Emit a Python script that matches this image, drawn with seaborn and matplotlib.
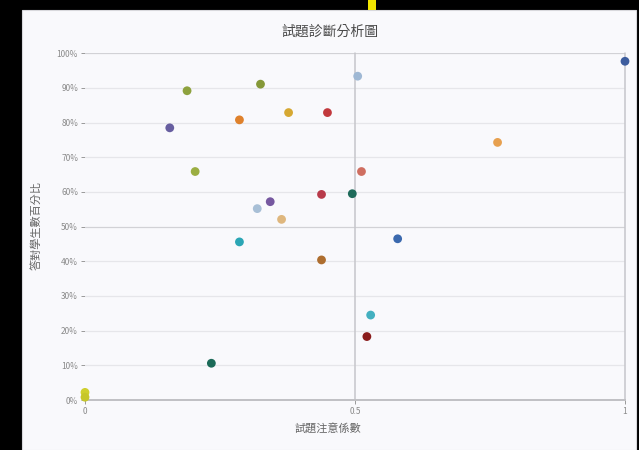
import pandas as pd
import seaborn as sns
import matplotlib.pyplot as plt
from matplotlib.patches import Rectangle
from matplotlib.ticker import PercentFormatter

# item data
attention = [1.0, 0.505, 0.325, 0.189, 0.377, 0.449, 0.286, 0.157, 0.764, 0.512, 0.204,
             0.438, 0.495, 0.343, 0.319, 0.364, 0.286, 0.579, 0.438, 0.529, 0.522, 0.234,
             0.0, 0.0]
correct_pct = [97.7, 93.4, 91.1, 89.2, 82.9, 82.9, 80.8, 78.5, 74.3, 65.9, 65.9,
               59.3, 59.5, 57.2, 55.2, 52.1, 45.6, 46.5, 40.4, 24.5, 18.3, 10.6,
               2.2, 0.8]
colors = ["#3d5d9e", "#9fb8d4", "#859838", "#8ea23e", "#d6a832", "#c2393d", "#df812c",
          "#675ea0", "#e7a04f", "#cf6e60", "#9bae42", "#b83a4a", "#1e6a5a", "#7658a0",
          "#a8bfd6", "#dfb77e", "#2ba6b5", "#3b69ae", "#ae6e2f", "#44b0c0", "#8a1c1c",
          "#1b6a58", "#cfcf2e", "#c6c62a"]

df = pd.DataFrame({"item": range(len(attention)), "x": attention, "y": correct_pct})

sns.set_theme(style="white")
plt.rcParams["font.family"] = ["Noto Sans CJK TC", "DejaVu Sans"]

fig = plt.figure(figsize=(6.39, 4.5), dpi=100, facecolor="black")
bg = "#f9f9fc"
fig.patches.append(Rectangle((22 / 639, 0), 614 / 639, 440 / 450, transform=fig.transFigure,
                             facecolor=bg, edgecolor="#d8d8dc", lw=0.8, zorder=-10))
fig.patches.append(Rectangle((368 / 639, 440 / 450), 8 / 639, 10 / 450, transform=fig.transFigure,
                             facecolor="#f2e600", edgecolor="none", zorder=-10))

ax = fig.add_axes([85 / 639, 50 / 450, 540 / 639, 346.7 / 450])
ax.set_facecolor(bg)

sns.scatterplot(data=df, x="x", y="y", hue="item", palette=colors, s=40,
                edgecolor="none", legend=False, ax=ax, zorder=3, clip_on=False)

ax.set_xlim(0, 1)
ax.set_ylim(0, 100)
ax.set_xticks([0, 0.5, 1])
ax.set_xticklabels(["0", "0.5", "1"])
ax.set_yticks(range(0, 101, 10))
ax.yaxis.set_major_formatter(PercentFormatter(decimals=0))
ax.tick_params(axis="both", labelsize=6, colors="#8a8a8a", length=3, width=0.6,
               left=True, bottom=True, pad=2)

for v in range(10, 101, 10):
    c = "#d2d2d6" if v in (50, 100) else "#e6e6ea"
    ax.axhline(v, color=c, lw=0.9, zorder=1)
for v in (0.5, 1):
    ax.axvline(v, color="#c6c6cb", lw=1.1, zorder=1, clip_on=False)
for s in ["top", "right", "left"]:
    ax.spines[s].set_visible(False)
ax.spines["bottom"].set_color("#c0c0c4")
ax.spines["bottom"].set_linewidth(1.4)

ax.set_xlabel("")
ax.set_ylabel("")
fig.text(330 / 639, 1 - 32 / 450, "試題診斷分析圖", ha="center", va="center",
         fontsize=10, color="#4a4a4a")
fig.text(328 / 639, 1 - 428 / 450, "試題注意係數", ha="center", va="center",
         fontsize=8, color="#666666")
fig.text(36 / 639, 1 - 225 / 450, "答對學生數百分比", ha="center", va="center",
         rotation=90, fontsize=8, color="#666666")

fig.savefig("out.png", dpi=100, facecolor=fig.get_facecolor())
